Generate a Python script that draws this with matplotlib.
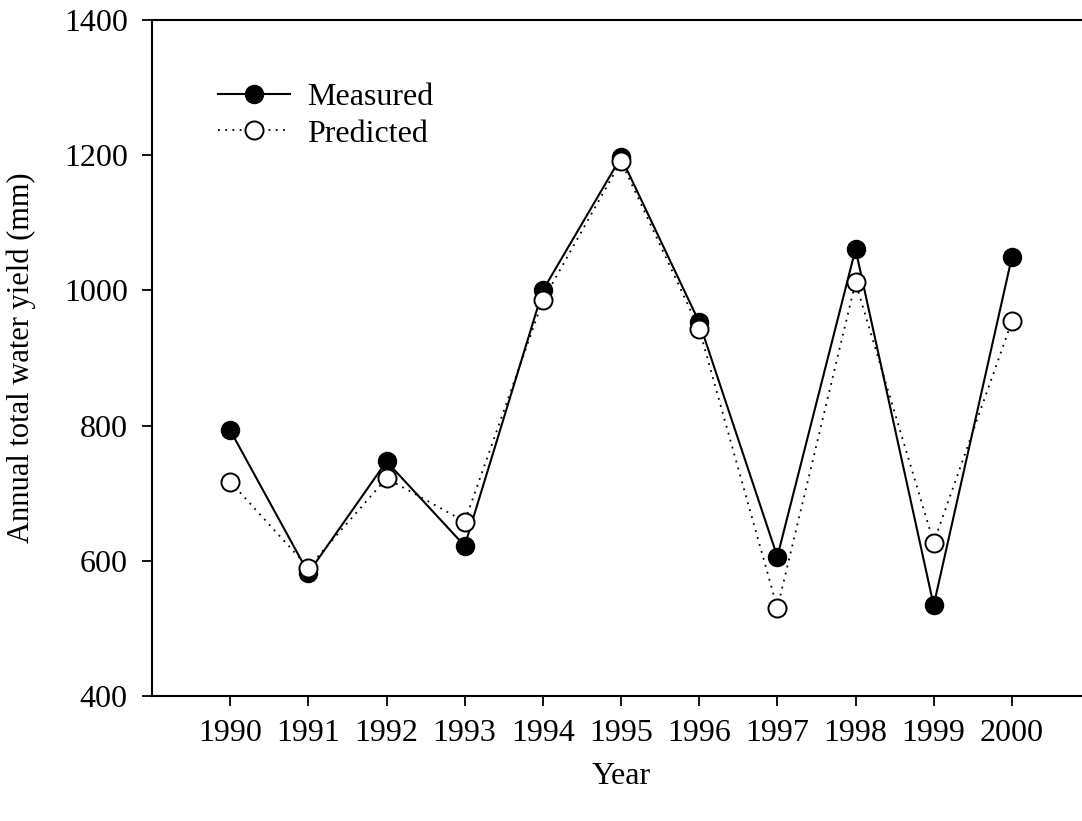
import numpy as np
import matplotlib
matplotlib.use("Agg")
import matplotlib.pyplot as plt

# values
years = [1990, 1991, 1992, 1993, 1994, 1995, 1996, 1997, 1998, 1999, 2000]
measured = [793, 582, 747, 622, 1000, 1197, 953, 606, 1061, 534, 1049]
predicted = [717, 590, 722, 658, 985, 1191, 943, 530, 1012, 627, 954]
y_ticks = [400, 600, 800, 1000, 1200, 1400]

plt.rcParams['font.family'] = ['Liberation Serif', 'DejaVu Serif']
plt.rcParams['font.size'] = 23

fig = plt.figure(figsize=(10.82, 8.21), dpi=100)
ax = fig.add_axes([0.1405, 0.1523, 0.8669, 0.8234])

ax.plot(years, measured, color='black', lw=1.5, marker='o', ms=13,
        mfc='black', mec='black', label='Measured', zorder=3)
ax.plot(years, predicted, color='black', lw=1.3, ls=(0, (1, 3)), marker='o',
        ms=13, mfc='white', mec='black', mew=1.4, label='Predicted', zorder=4)

ax.set_xlim(1989, 2001)
ax.set_ylim(400, 1400)
ax.set_xticks(years)
ax.set_yticks(y_ticks)

ax.spines['right'].set_visible(False)
for s in ['left', 'top', 'bottom']:
    ax.spines[s].set_linewidth(1.5)
ax.tick_params(direction='out', length=7.5, width=1.3, labelsize=23)
ax.tick_params(axis='x', pad=9)
ax.tick_params(axis='y', pad=10)

ax.set_xlabel('Year', fontsize=23, labelpad=10)
ax.set_ylabel('Annual total water yield (mm)', fontsize=22, labelpad=20)

ax.legend(loc='upper left', bbox_to_anchor=(0.0704, 0.907), frameon=False,
          fontsize=23, borderpad=0, borderaxespad=0, handlelength=2.25,
          handletextpad=0.55, labelspacing=0.22)

fig.savefig('out.png', dpi=100)
